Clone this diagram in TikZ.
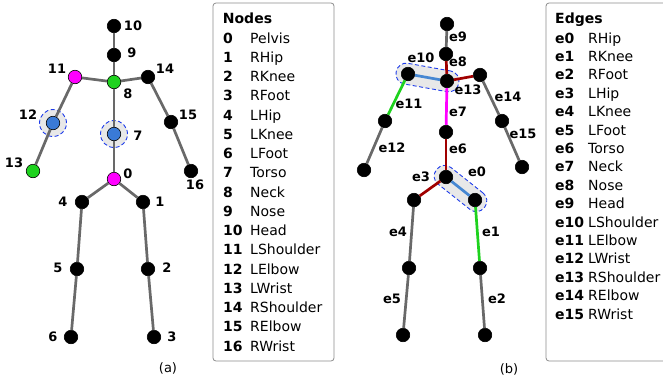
\documentclass[tikz,border=0pt]{standalone}
\usepackage{fontspec}
\setmainfont{DejaVu Sans}
\usetikzlibrary{calc}
\pgfdeclarelayer{bg}
\pgfsetlayers{bg,main}
\definecolor{edgegray}{RGB}{105,105,105}
\definecolor{hlblue}{RGB}{30,60,235}
\definecolor{hlfill}{RGB}{232,232,232}
\definecolor{nodeblue}{RGB}{58,122,214}
\definecolor{dred}{RGB}{160,0,0}
\definecolor{lgreen}{RGB}{30,210,30}
\definecolor{pmag}{RGB}{255,0,255}
\definecolor{steel}{RGB}{70,135,210}
\definecolor{boxgray}{RGB}{140,140,140}
\begin{document}
\begin{tikzpicture}[x=1pt,y=-1pt,
  joint/.style={circle,draw=black,line width=0.6pt,fill=black,minimum size=13.5pt,inner sep=0pt},
  bjoint/.style={joint,fill=nodeblue},
  mjoint/.style={joint,fill=pmag},
  gjoint/.style={joint,fill=lgreen},
  bone/.style={line width=2.7pt,draw=edgegray},
  rbone/.style={line width=2.7pt,draw=dred},
  gbone/.style={line width=2.7pt,draw=lgreen},
  mbone/.style={line width=2.7pt,draw=pmag},
  sbone/.style={line width=2.7pt,draw=steel},
  lbl/.style={font=\fontsize{13}{15}\selectfont\bfseries,inner sep=0pt},
  captxt/.style={font=\fontsize{13}{15}\selectfont,inner sep=0pt},
  listb/.style={font=\fontsize{14}{16}\selectfont\bfseries,inner sep=0pt,anchor=base west},
  listr/.style={font=\fontsize{14}{16}\selectfont,inner sep=0pt,anchor=base west},
  legend/.style={draw=boxgray,line width=0.8pt,rounded corners=3pt},
  hlring/.style={draw=hlblue,line width=0.9pt,dash pattern=on 4pt off 2.5pt,fill=hlfill},
  hlbar/.style={rectangle,hlring,rounded corners=10pt,minimum height=21pt,inner sep=0pt}
]
\useasboundingbox (0,0) rectangle (663,383);

% ---------------- panel (a) ----------------
\node[joint]  (a10) at (114,26) {};
\node[joint]  (a9)  at (114,55) {};
\node[gjoint] (a8)  at (114,82) {};
\node[mjoint] (a11) at (75,77) {};
\node[joint]  (a14) at (148,77) {};
\node[bjoint] (a12) at (53,123) {};
\node[bjoint] (a7)  at (114,134) {};
\node[joint]  (a15) at (171,122) {};
\node[gjoint] (a13) at (33,171) {};
\node[joint]  (a16) at (191,171) {};
\node[mjoint] (a0)  at (114,179) {};
\node[joint]  (a4)  at (82,202) {};
\node[joint]  (a1)  at (143,202) {};
\node[joint]  (a5)  at (77,269) {};
\node[joint]  (a2)  at (148,269) {};
\node[joint]  (a6)  at (71,337) {};
\node[joint]  (a3)  at (154,337) {};

\begin{pgfonlayer}{bg}
  \path[hlring] (a12) circle (13.5pt);
  \path[hlring] (a7) circle (13.5pt);
\end{pgfonlayer}

\foreach \u/\v in {a10/a9,a9/a8,a8/a11,a8/a14,a11/a12,a12/a13,a14/a15,a15/a16,
                   a8/a7,a7/a0,a0/a4,a0/a1,a4/a5,a5/a6,a1/a2,a2/a3}
  \draw[bone] (\u) -- (\v);

\node[lbl] (la10) at (133,26) {10};
\node[lbl] (la9)  at (132,53) {9};
\node[lbl] (la8)  at (128,94) {8};
\node[lbl] (la11) at (57,69) {11};
\node[lbl] (la14) at (165,69) {14};
\node[lbl] (la12) at (28,115) {12};
\node[lbl] (la15) at (188,115) {15};
\node[lbl] (la7)  at (138,136) {7};
\node[lbl] (la13) at (14,163) {13};
\node[lbl] (la16) at (195,185) {16};
\node[lbl] (la0)  at (128,174) {0};
\node[lbl] (la4)  at (63,202) {4};
\node[lbl] (la1)  at (160,202) {1};
\node[lbl] (la5)  at (58,268) {5};
\node[lbl] (la2)  at (167,268) {2};
\node[lbl] (la6)  at (53,337) {6};
\node[lbl] (la3)  at (172,337) {3};
\node[captxt] (capa) at (168,368) {(a)};

% ---------------- Nodes legend ----------------
\draw[legend] (213,3) rectangle (334,361);
\node[listb] (ntitle) at (222.7,23) {Nodes};
\foreach \i/\n [count=\k from 0] in {0/Pelvis,1/RHip,2/RKnee,3/RFoot,4/LHip,5/LKnee,6/LFoot,
   7/Torso,8/Neck,9/Nose,10/Head,11/LShoulder,12/LElbow,13/LWrist,14/RShoulder,15/RElbow,16/RWrist}{
  \node[listb] (nn\k) at (223,43+19.25*\k) {\i};
  \node[listr] (nm\k) at (250,43+19.25*\k) {\n};
}

% ---------------- panel (b) ----------------
\node[joint] (bH)  at (447,24) {};
\node[joint] (bN)  at (446,54) {};
\node[joint] (bC)  at (447,81) {};
\node[joint] (bLS) at (408,74) {};
\node[joint] (bRS) at (480,75) {};
\node[joint] (bLE) at (385,121) {};
\node[joint] (bT)  at (446,132) {};
\node[joint] (bRE) at (502,121) {};
\node[joint] (bLW) at (364,170) {};
\node[joint] (bRW) at (522,167) {};
\node[joint] (bP)  at (446,177) {};
\node[joint] (bLH) at (414,200) {};
\node[joint] (bRH) at (475,200) {};
\node[joint] (bLK) at (409,268) {};
\node[joint] (bRK) at (480,268) {};
\node[joint] (bLF) at (403,335) {};
\node[joint] (bRF) at (485,335) {};

\begin{pgfonlayer}{bg}
  \path let \p1=($(bC)-(bLS)$), \n1={atan2(\y1,\x1)}, \n2={veclen(\x1,\y1)} in
    node[hlbar,rotate=\n1,minimum width=\n2+24pt] (hl10) at ($(bLS)!0.5!(bC)$) {};
  \path let \p1=($(bRH)-(bP)$), \n1={atan2(\y1,\x1)}, \n2={veclen(\x1,\y1)} in
    node[hlbar,rotate=\n1,minimum width=\n2+24pt] (hl0) at ($(bP)!0.5!(bRH)$) {};
\end{pgfonlayer}

\draw[bone]  (bH) -- (bN);
\draw[rbone] (bN) -- (bC);
\draw[sbone] (bC) -- (bLS);
\draw[rbone] (bC) -- (bRS);
\draw[gbone] (bLS) -- (bLE);
\draw[bone]  (bLE) -- (bLW);
\draw[bone]  (bRS) -- (bRE);
\draw[bone]  (bRE) -- (bRW);
\draw[mbone] (bC) -- (bT);
\draw[rbone] (bT) -- (bP);
\draw[rbone] (bP) -- (bLH);
\draw[sbone] (bP) -- (bRH);
\draw[gbone] (bRH) -- (bRK);
\draw[bone]  (bRK) -- (bRF);
\draw[bone]  (bLH) -- (bLK);
\draw[bone]  (bLK) -- (bLF);

\node[lbl] (le9)  at (458,37) {e9};
\node[lbl] (le8)  at (458,62) {e8};
\node[lbl] (le10) at (421,58) {e10};
\node[lbl] (le13) at (468,90) {e13};
\node[lbl] (le11) at (409,104) {e11};
\node[lbl] (le7)  at (458,112) {e7};
\node[lbl] (le14) at (508,97) {e14};
\node[lbl] (le15) at (523,134) {e15};
\node[lbl] (le12) at (392,148) {e12};
\node[lbl] (le6)  at (458,149) {e6};
\node[lbl] (le3)  at (421,177) {e3};
\node[lbl] (le0)  at (477,172) {e0};
\node[lbl] (le4)  at (398,232) {e4};
\node[lbl] (le1)  at (491,232) {e1};
\node[lbl] (le5)  at (392,299) {e5};
\node[lbl] (le2)  at (497,299) {e2};
\node[captxt] (capb) at (509,369) {(b)};

% ---------------- Edges legend ----------------
\draw[legend] (546,3) rectangle (680,361);
\node[listb] (etitle) at (555,23) {Edges};
\foreach \n [count=\k from 0] in {RHip,RKnee,RFoot,LHip,LKnee,LFoot,Torso,Neck,Nose,Head,
   LShoulder,LElbow,LWrist,RShoulder,RElbow,RWrist}{
  \node[listb] (en\k) at (555,43+18.4*\k) {e\k};
  \node[listr] (em\k) at (588,43+18.4*\k) {\n};
}
\end{tikzpicture}
\end{document}
